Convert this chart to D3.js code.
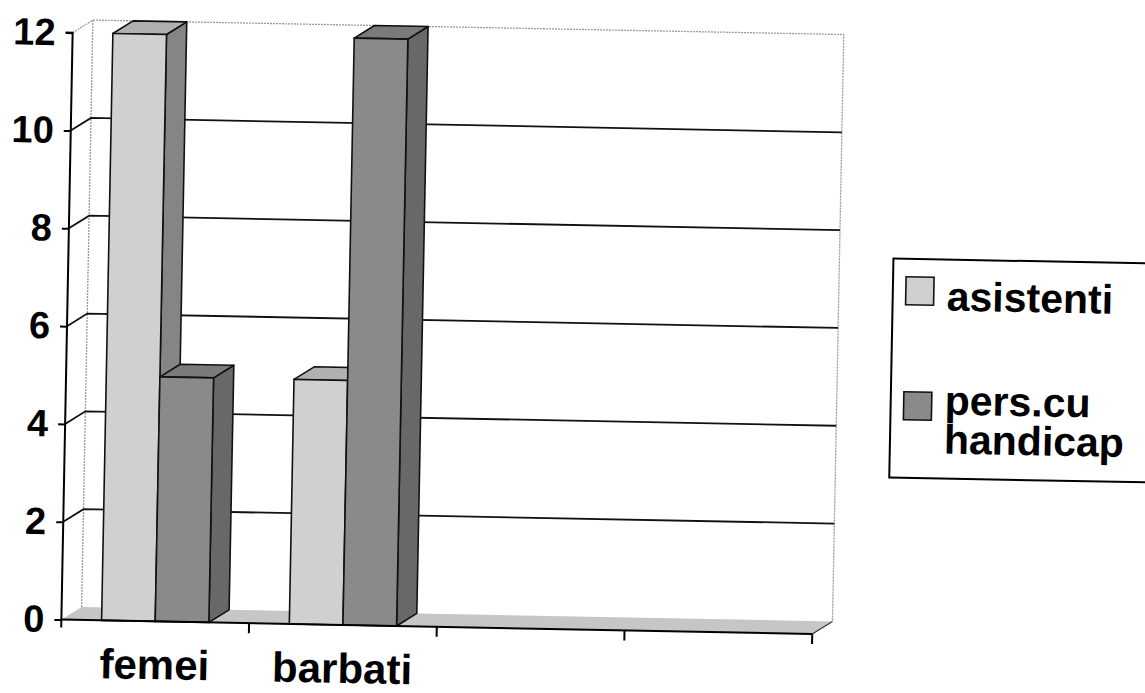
<!DOCTYPE html>
<html>
<head>
<meta charset="utf-8">
<script src="https://cdn.jsdelivr.net/npm/d3@7"></script>
<style>
  html, body { margin: 0; padding: 0; background: #fff; }
  svg { display: block; font-family: 'Liberation Sans', Arial, sans-serif; font-weight: bold; }
</style>
</head>
<body>
<svg width="1145" height="693"></svg>
<script>
// categories (last two are empty slots on the axis)
const categories = ['femei', 'barbati', '', '']
const seriesNames = ['asistenti', 'pers.cu handicap']
const asistenti = [12, 5, null, null]
const persCuHandicap = [5, 12, null, null]
const yTicks = [0, 2, 4, 6, 8, 10, 12]

const series = [
  { name: seriesNames[0], values: asistenti, front: '#d0d0d0', top: '#b0b0b0', side: '#858585' },
  { name: seriesNames[1], values: persCuHandicap, front: '#8a8a8a', top: '#7a7a7a', side: '#686868' }
]

const margin = { top: 40, right: 325, bottom: 66, left: 67 }
const width = 1145
const height = 693
const depth = { dx: 20, dy: -13 }

const svg = d3.select('svg')
// the original is a slightly tilted scan
const root = svg.append('g').attr('transform', 'rotate(1.1, 450, 330)')

const x = d3.scaleBand()
  .domain(d3.range(categories.length))
  .range([margin.left, width - margin.right - 2])

const xSeries = d3.scaleBand()
  .domain(d3.range(series.length))
  .range([0, x.bandwidth()])
  .paddingInner(0)
  .paddingOuter(0.75)

const y = d3.scaleLinear()
  .domain([0, 12])
  .range([height - margin.bottom, margin.top])

const x0 = x.range()[0]
const x1 = x.range()[1]
const yTop = y(12)
const yBottom = y(0)

// walls
const walls = root.append('g')
walls.append('path')
  .attr('d', `M${x0},${yTop} L${x0 + depth.dx},${yTop + depth.dy} L${x1 + depth.dx},${yTop + depth.dy} L${x1 + depth.dx},${yBottom + depth.dy}`)
  .attr('fill', 'none')
  .attr('stroke', '#9a9a9a')
  .attr('stroke-width', 1.3)
  .attr('stroke-dasharray', '2,1')
walls.append('line')
  .attr('x1', x0 + depth.dx).attr('x2', x0 + depth.dx)
  .attr('y1', yTop + depth.dy).attr('y2', yBottom + depth.dy)
  .attr('stroke', '#9a9a9a')
  .attr('stroke-width', 1.3)
  .attr('stroke-dasharray', '2,1')

// gridlines on side and back wall
root.append('g')
  .selectAll('path')
  .data(yTicks.filter(d => d > 0 && d < 12))
  .join('path')
  .attr('d', d => `M${x0},${y(d)} L${x0 + depth.dx},${y(d) + depth.dy} L${x1 + depth.dx},${y(d) + depth.dy}`)
  .attr('fill', 'none')
  .attr('stroke', '#111')
  .attr('stroke-width', 1.8)

// floor
root.append('path')
  .attr('d', `M${x0},${yBottom} L${x0 + depth.dx},${yBottom + depth.dy} L${x1 + depth.dx},${yBottom + depth.dy} L${x1},${yBottom} Z`)
  .attr('fill', '#c6c6c6')
  .attr('stroke', 'none')
root.append('path')
  .attr('d', `M${x1},${yBottom} L${x1 + depth.dx},${yBottom + depth.dy}`)
  .attr('stroke', '#333')
  .attr('stroke-width', 1.2)

// bars
const bars = []
categories.forEach((c, i) => {
  series.forEach((s, j) => {
    if (s.values[i] != null) bars.push({ i, j, s, v: s.values[i] })
  })
})

const barG = root.append('g')
  .selectAll('g')
  .data(bars)
  .join('g')

const bx = d => x(d.i) + xSeries(d.j)
const bw = xSeries.bandwidth()

barG.append('path')
  .attr('d', d => {
    const l = bx(d) + bw, t = y(d.v)
    return `M${l},${t} L${l + depth.dx},${t + depth.dy} L${l + depth.dx},${yBottom + depth.dy} L${l},${yBottom} Z`
  })
  .attr('fill', d => d.s.side)
  .attr('stroke', '#111')
  .attr('stroke-width', 1.6)
  .attr('stroke-linejoin', 'round')

barG.append('path')
  .attr('d', d => {
    const l = bx(d), t = y(d.v)
    return `M${l},${t} L${l + depth.dx},${t + depth.dy} L${l + bw + depth.dx},${t + depth.dy} L${l + bw},${t} Z`
  })
  .attr('fill', d => d.s.top)
  .attr('stroke', '#111')
  .attr('stroke-width', 1.6)
  .attr('stroke-linejoin', 'round')

barG.append('rect')
  .attr('x', d => bx(d))
  .attr('y', d => y(d.v))
  .attr('width', bw)
  .attr('height', d => yBottom - y(d.v))
  .attr('fill', d => d.s.front)
  .attr('stroke', '#111')
  .attr('stroke-width', 1.6)

// y axis
const yAxis = g => g
  .attr('transform', `translate(${x0},0)`)
  .call(d3.axisLeft(y).tickValues(yTicks).tickSize(7).tickPadding(10))
  .call(g => g.select('.domain').attr('stroke', '#000').attr('stroke-width', 2)
    .attr('d', `M-7,${yTop}H0V${yBottom + 8}`))
  .call(g => g.selectAll('.tick line').attr('stroke', '#000').attr('stroke-width', 2))
  .call(g => g.selectAll('.tick text')
    .attr('fill', '#000')
    .attr('font-size', 38)
    .attr('font-weight', 'bold')
    .attr('font-family', "'Liberation Sans', Arial, sans-serif"))

// x axis
const xAxis = g => g
  .attr('transform', `translate(0,${yBottom})`)
  .call(d3.axisBottom(x).tickFormat(i => categories[i]).tickSize(0).tickPadding(28))
  .call(g => g.select('.domain').attr('stroke', '#000').attr('stroke-width', 2)
    .attr('d', `M${x0},0H${x1}`))
  .call(g => g.selectAll('.tick text')
    .attr('fill', '#000')
    .attr('font-size', 42)
    .attr('font-weight', 'bold')
    .attr('font-family', "'Liberation Sans', Arial, sans-serif"))

root.append('g').call(yAxis)
root.append('g').call(xAxis)

// category boundary ticks
root.append('g')
  .selectAll('line')
  .data(d3.range(1, categories.length + 1))
  .join('line')
  .attr('x1', i => x0 + i * x.step())
  .attr('x2', i => x0 + i * x.step())
  .attr('y1', yBottom)
  .attr('y2', yBottom + 10)
  .attr('stroke', '#000')
  .attr('stroke-width', 2)

// legend
const legend = root.append('g').attr('transform', 'translate(892,250)')
legend.append('rect')
  .attr('width', 290)
  .attr('height', 219)
  .attr('fill', '#fff')
  .attr('stroke', '#000')
  .attr('stroke-width', 2)

const legendRows = [
  { s: series[0], lines: ['asistenti'], y: 18, base: 33 },
  { s: series[1], lines: ['pers.cu', 'handicap'], y: 133, base: 22 }
]

const item = legend.selectAll('g.item')
  .data(legendRows)
  .join('g')
  .attr('class', 'item')
  .attr('transform', d => `translate(13,${d.y})`)

item.append('rect')
  .attr('width', 28)
  .attr('height', 28)
  .attr('fill', d => d.s.front)
  .attr('stroke', '#111')
  .attr('stroke-width', 1.6)

item.append('text')
  .attr('font-size', 41)
  .attr('fill', '#000')
  .each(function (d) {
    d3.select(this).selectAll('tspan')
      .data(d.lines)
      .join('tspan')
      .attr('x', 41)
      .attr('y', (l, k) => d.base + k * 39)
      .text(l => l)
  })
</script>
</body>
</html>
